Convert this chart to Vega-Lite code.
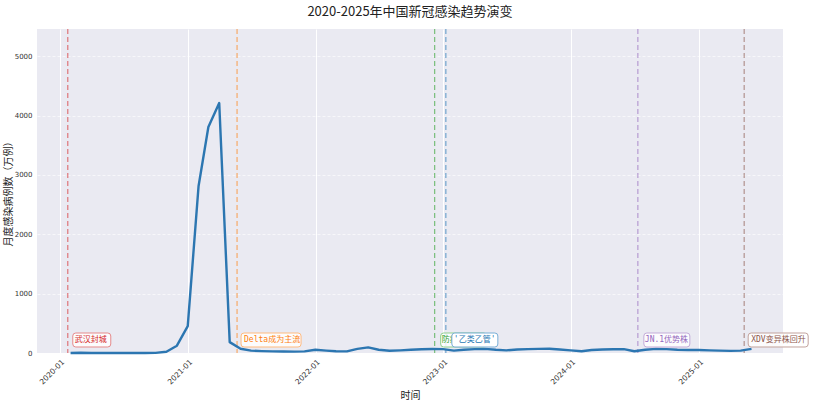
{
  "$schema": "https://vega.github.io/schema/vega-lite/v6.json",
  "width": 746,
  "height": 324,
  "autosize": {"type": "none"},
  "padding": {"left": 37, "top": 29, "right": 31, "bottom": 50},
  "background": "white",
  "title": {
    "text": "2020-2025年中国新冠感染趋势演变",
    "font": "Noto Sans CJK SC",
    "fontSize": 13,
    "fontWeight": "normal",
    "color": "#222222",
    "anchor": "middle",
    "offset": 9
  },
  "datasets": {
    "cases": [
      {"date": "2020-01-31", "cases": 1},
      {"date": "2020-02-29", "cases": 3},
      {"date": "2020-03-31", "cases": 1},
      {"date": "2020-04-30", "cases": 0.5},
      {"date": "2020-05-31", "cases": 0.3},
      {"date": "2020-06-30", "cases": 0.3},
      {"date": "2020-07-31", "cases": 0.4},
      {"date": "2020-08-31", "cases": 0.3},
      {"date": "2020-09-30", "cases": 2},
      {"date": "2020-10-31", "cases": 22},
      {"date": "2020-11-30", "cases": 123},
      {"date": "2020-12-31", "cases": 452},
      {"date": "2021-01-31", "cases": 2815},
      {"date": "2021-02-28", "cases": 3808},
      {"date": "2021-03-31", "cases": 4212},
      {"date": "2021-04-30", "cases": 183},
      {"date": "2021-05-31", "cases": 72},
      {"date": "2021-06-30", "cases": 40},
      {"date": "2021-07-31", "cases": 32},
      {"date": "2021-08-31", "cases": 28},
      {"date": "2021-09-30", "cases": 25},
      {"date": "2021-10-31", "cases": 23},
      {"date": "2021-11-30", "cases": 27},
      {"date": "2021-12-31", "cases": 55},
      {"date": "2022-01-31", "cases": 40},
      {"date": "2022-02-28", "cases": 30},
      {"date": "2022-03-31", "cases": 28},
      {"date": "2022-04-30", "cases": 70},
      {"date": "2022-05-31", "cases": 95},
      {"date": "2022-06-30", "cases": 55},
      {"date": "2022-07-31", "cases": 38},
      {"date": "2022-08-31", "cases": 45},
      {"date": "2022-09-30", "cases": 55},
      {"date": "2022-10-31", "cases": 62},
      {"date": "2022-11-30", "cases": 68},
      {"date": "2022-12-31", "cases": 65},
      {"date": "2023-01-31", "cases": 40},
      {"date": "2023-02-28", "cases": 55},
      {"date": "2023-03-31", "cases": 65},
      {"date": "2023-04-30", "cases": 70},
      {"date": "2023-05-31", "cases": 55},
      {"date": "2023-06-30", "cases": 45},
      {"date": "2023-07-31", "cases": 60},
      {"date": "2023-08-31", "cases": 65},
      {"date": "2023-09-30", "cases": 70},
      {"date": "2023-10-31", "cases": 72},
      {"date": "2023-11-30", "cases": 60},
      {"date": "2023-12-31", "cases": 45},
      {"date": "2024-01-31", "cases": 30},
      {"date": "2024-02-29", "cases": 50},
      {"date": "2024-03-31", "cases": 60},
      {"date": "2024-04-30", "cases": 62},
      {"date": "2024-05-31", "cases": 65},
      {"date": "2024-06-30", "cases": 30},
      {"date": "2024-07-31", "cases": 55},
      {"date": "2024-08-31", "cases": 70},
      {"date": "2024-09-30", "cases": 65},
      {"date": "2024-10-31", "cases": 55},
      {"date": "2024-11-30", "cases": 50},
      {"date": "2024-12-31", "cases": 50},
      {"date": "2025-01-31", "cases": 45},
      {"date": "2025-02-28", "cases": 40},
      {"date": "2025-03-31", "cases": 35},
      {"date": "2025-04-30", "cases": 40},
      {"date": "2025-05-31", "cases": 70}
    ],
    "events": [
      {"date": "2020-01-23", "label": "武汉封城"},
      {"date": "2021-05-21", "label": "Delta成为主流"},
      {"date": "2022-12-07", "label": "防疫新十条"},
      {"date": "2023-01-08", "label": "'乙类乙管'"},
      {"date": "2024-07-10", "label": "JN.1优势株"},
      {"date": "2025-05-10", "label": "XDV变异株回升"}
    ]
  },
  "layer": [
    {
      "data": {"name": "events"},
      "mark": {"type": "rule", "strokeDash": [5, 3], "strokeWidth": 1.2, "opacity": 0.6},
      "encoding": {
        "x": {"field": "date", "type": "temporal"},
        "color": {
          "field": "label",
          "type": "nominal",
          "legend": null,
          "scale": {
            "domain": ["武汉封城", "Delta成为主流", "防疫新十条", "'乙类乙管'", "JN.1优势株", "XDV变异株回升"],
            "range": ["#d62728", "#ff7f0e", "#2ca02c", "#1f77b4", "#9467bd", "#8c564b"]
          }
        }
      }
    },
    {
      "data": {"name": "cases"},
      "mark": {"type": "line", "color": "#2c76b1", "strokeWidth": 2.4, "strokeJoin": "round"},
      "encoding": {
        "x": {
          "field": "date",
          "type": "temporal",
          "title": "时间",
          "scale": {
            "type": "utc",
            "domain": [
              {"year": 2019, "month": 10, "date": 27, "utc": true},
              {"year": 2025, "month": 8, "date": 29, "utc": true}
            ]
          },
          "axis": {
            "labelExpr": "utcFormat(datum.value, '%Y-%m')",
            "labelAngle": -45,
            "values": [
              {"year": 2020, "month": 1, "date": 1, "utc": true},
              {"year": 2021, "month": 1, "date": 1, "utc": true},
              {"year": 2022, "month": 1, "date": 1, "utc": true},
              {"year": 2023, "month": 1, "date": 1, "utc": true},
              {"year": 2024, "month": 1, "date": 1, "utc": true},
              {"year": 2025, "month": 1, "date": 1, "utc": true}
            ],
            "gridDash": []
          }
        },
        "y": {
          "field": "cases",
          "type": "quantitative",
          "title": "月度感染病例数（万例）",
          "scale": {"domain": [0, 5460], "nice": false},
          "axis": {"values": [0, 1000, 2000, 3000, 4000, 5000], "format": "d", "labelFontSize": 7, "gridDash": [3, 2], "gridOpacity": 0.6, "titlePadding": 1}
        }
      }
    },
    {
      "data": {"name": "events"},
      "transform": [{"filter": "datum.label === '武汉封城'"}],
      "mark": {
        "type": "point",
        "shape": "M-0.842,-0.368H0.842Q1,-0.368,1,-0.21V0.21Q1,0.368,0.842,0.368H-0.842Q-1,0.368,-1,0.21V-0.21Q-1,-0.368,-0.842,-0.368Z",
        "size": 1444,
        "xOffset": 24,
        "filled": false,
        "fill": "white",
        "fillOpacity": 0.85,
        "strokeWidth": 1,
        "opacity": 1
      },
      "encoding": {
        "x": {"field": "date", "type": "temporal"},
        "y": {"datum": 219},
        "stroke": {
          "field": "label",
          "type": "nominal",
          "legend": null,
          "scale": {
            "domain": ["武汉封城", "Delta成为主流", "防疫新十条", "'乙类乙管'", "JN.1优势株", "XDV变异株回升"],
            "range": ["#e68a8b", "#ffbb80", "#8fd08f", "#79aed6", "#c3acd9", "#c2a39d"]
          }
        }
      }
    },
    {
      "data": {"name": "events"},
      "transform": [{"filter": "datum.label === 'Delta成为主流' || datum.label === 'XDV变异株回升'"}],
      "mark": {
        "type": "point",
        "shape": "M-0.9,-0.233H0.9Q1,-0.233,1,-0.133V0.133Q1,0.233,0.9,0.233H-0.9Q-1,0.233,-1,0.133V-0.133Q-1,-0.233,-0.9,-0.233Z",
        "size": 3600,
        "xOffset": 34,
        "filled": false,
        "fill": "white",
        "fillOpacity": 0.85,
        "strokeWidth": 1,
        "opacity": 1
      },
      "encoding": {
        "x": {"field": "date", "type": "temporal"},
        "y": {"datum": 219},
        "stroke": {"field": "label", "type": "nominal", "legend": null}
      }
    },
    {
      "data": {"name": "events"},
      "transform": [{"filter": "datum.label === '防疫新十条' || datum.label === 'JN.1优势株'"}],
      "mark": {
        "type": "point",
        "shape": "M-0.87,-0.304H0.87Q1,-0.304,1,-0.174V0.174Q1,0.304,0.87,0.304H-0.87Q-1,0.304,-1,0.174V-0.174Q-1,-0.304,-0.87,-0.304Z",
        "size": 2116,
        "xOffset": 29,
        "filled": false,
        "fill": "white",
        "fillOpacity": 0.85,
        "strokeWidth": 1,
        "opacity": 1
      },
      "encoding": {
        "x": {"field": "date", "type": "temporal"},
        "y": {"datum": 219},
        "stroke": {"field": "label", "type": "nominal", "legend": null}
      }
    },
    {
      "data": {"name": "events"},
      "transform": [{"filter": "indexof(datum.label, '乙类') < 0"}],
      "mark": {"type": "text", "align": "left", "baseline": "middle", "dx": 7, "font": "DejaVu Sans Mono, Noto Sans CJK SC", "fontSize": 8},
      "encoding": {
        "x": {"field": "date", "type": "temporal"},
        "y": {"datum": 219},
        "text": {"field": "label"},
        "color": {"field": "label", "type": "nominal", "legend": null}
      }
    },
    {
      "data": {"name": "events"},
      "transform": [{"filter": "indexof(datum.label, '乙类') >= 0"}],
      "mark": {
        "type": "point",
        "shape": "M-0.87,-0.304H0.87Q1,-0.304,1,-0.174V0.174Q1,0.304,0.87,0.304H-0.87Q-1,0.304,-1,0.174V-0.174Q-1,-0.304,-0.87,-0.304Z",
        "size": 2116,
        "xOffset": 29,
        "filled": false,
        "fill": "white",
        "fillOpacity": 1,
        "strokeWidth": 1,
        "opacity": 1
      },
      "encoding": {
        "x": {"field": "date", "type": "temporal"},
        "y": {"datum": 219},
        "stroke": {"field": "label", "type": "nominal", "legend": null}
      }
    },
    {
      "data": {"name": "events"},
      "transform": [{"filter": "indexof(datum.label, '乙类') >= 0"}],
      "mark": {"type": "text", "align": "left", "baseline": "middle", "dx": 8, "font": "DejaVu Sans Mono, Noto Sans CJK SC", "fontSize": 8},
      "encoding": {
        "x": {"field": "date", "type": "temporal"},
        "y": {"datum": 219},
        "text": {"field": "label"},
        "color": {"field": "label", "type": "nominal", "legend": null}
      }
    }
  ],
  "config": {
    "view": {"fill": "#EAEAF2", "stroke": null},
    "axis": {
      "domain": false,
      "ticks": false,
      "grid": true,
      "gridColor": "white",
      "gridWidth": 1,
      "labelFont": "DejaVu Sans",
      "labelFontSize": 7.5,
      "labelColor": "#333333",
      "labelPadding": 5,
      "titleFont": "Noto Sans CJK SC",
      "titleFontSize": 10,
      "titleFontWeight": "normal",
      "titleColor": "#222222",
      "titlePadding": 5
    }
  }
}
